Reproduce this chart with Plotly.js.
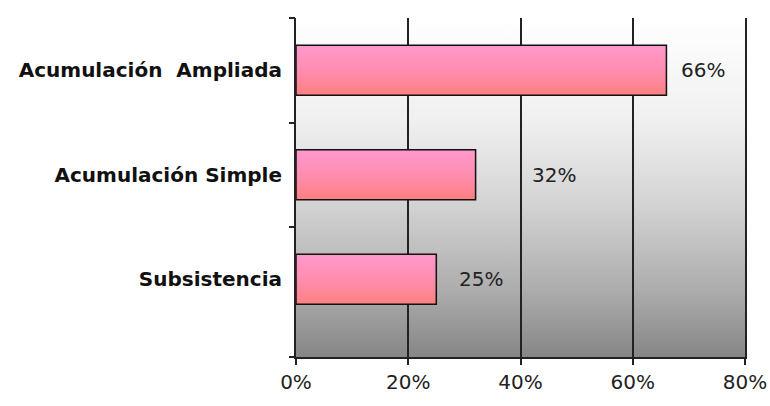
<!DOCTYPE html>
<html>
<head>
<meta charset="utf-8">
<script src="https://cdn.plot.ly/plotly-3.0.1.min.js"></script>
<style>html,body{margin:0;padding:0;background:#fff;}#chart{width:770px;height:406px;}</style>
</head>
<body>
<div id="chart"></div>
<script>
// ---- data ----
const categories = ['Acumulación\u00a0 Ampliada', 'Acumulación Simple', 'Subsistencia'];
const values = [66, 32, 25];
const valueLabels = ['66%', '32%', '25%'];
const xTickVals = [0, 20, 40, 60, 80];
const xTickText = ['0%', '20%', '40%', '60%', '80%'];

// label offsets (style, px)
const labelShift = [13, 54, 21];

const bar = {
  type: 'bar', orientation: 'h',
  x: values, y: categories,
  width: 0.48,
  marker: {color: '#ff8aa6', line: {color: '#111', width: 1.5}},
  hoverinfo: 'none', showlegend: false
};

const yTop = -0.5, yBottom = 2.744;
const boundaryTicks = [-0.5, 0.5, 1.5, yBottom];

const annotations = values.map((v, i) => ({
  x: v, y: categories[i], xref: 'x', yref: 'y',
  text: valueLabels[i], showarrow: false, xanchor: 'left', xshift: labelShift[i],
  font: {family: 'DejaVu Sans', size: 20, color: '#222'}
}));

const layout = {
  width: 770, height: 406,
  margin: {l: 296, r: 25, t: 18, b: 49, pad: 0},
  paper_bgcolor: '#fff', plot_bgcolor: '#ddd',
  xaxis: {
    range: [0, 80], tickvals: xTickVals, ticktext: xTickText,
    showgrid: true, gridcolor: '#222', gridwidth: 2,
    zeroline: false, showline: true, linecolor: '#222', linewidth: 2,
    ticks: 'outside', ticklen: 6, tickcolor: '#222', tickwidth: 2,
    tickfont: {family: 'DejaVu Sans', size: 20, color: '#222'},
    fixedrange: true
  },
  yaxis: {
    type: 'category', categoryorder: 'array', categoryarray: categories,
    range: [yBottom, yTop],
    showline: true, linecolor: '#222', linewidth: 2,
    ticks: '', showgrid: false, zeroline: false,
    ticklabelstandoff: 8,
    tickfont: {family: 'DejaVu Sans', size: 20, color: '#111', weight: 'bold'},
    fixedrange: true
  },
  yaxis2: {
    overlaying: 'y', range: [yBottom, yTop], tickvals: boundaryTicks,
    showticklabels: false, ticks: 'outside', ticklen: 6, tickcolor: '#222', tickwidth: 2,
    showgrid: false, zeroline: false, showline: false, fixedrange: true, side: 'left'
  },
  yaxis3: {
    overlaying: 'y', range: [yBottom, yTop], side: 'right',
    showticklabels: false, ticks: '', showgrid: false, zeroline: false,
    showline: true, linecolor: '#222', linewidth: 2, fixedrange: true
  },
  annotations: annotations,
  showlegend: false
};

const dummy2 = {type: 'scatter', x: [null], y: [null], yaxis: 'y2', hoverinfo: 'none', showlegend: false};
const dummy3 = {type: 'scatter', x: [null], y: [null], yaxis: 'y3', hoverinfo: 'none', showlegend: false};

Plotly.newPlot('chart', [bar, dummy2, dummy3], layout, {staticPlot: true, displayModeBar: false}).then(gd => {
  const svg = gd.querySelector('svg.main-svg');
  const NS = 'http://www.w3.org/2000/svg';
  let defs = svg.querySelector('defs');
  if (!defs) { defs = document.createElementNS(NS, 'defs'); svg.insertBefore(defs, svg.firstChild); }
  function grad(id, stops) {
    const g = document.createElementNS(NS, 'linearGradient');
    g.setAttribute('id', id);
    g.setAttribute('x1', '0'); g.setAttribute('y1', '0'); g.setAttribute('x2', '0'); g.setAttribute('y2', '1');
    stops.forEach(s => {
      const st = document.createElementNS(NS, 'stop');
      st.setAttribute('offset', s[0]); st.setAttribute('stop-color', s[1]);
      g.appendChild(st);
    });
    defs.appendChild(g);
  }
  grad('bgGrad', [['0', '#ffffff'], ['0.3', '#f0f0f0'], ['0.55', '#d3d3d3'], ['0.8', '#adadad'], ['1', '#868686']]);
  grad('barGrad', [['0', '#ff99cc'], ['0.5', '#ff8db0'], ['1', '#ff8080']]);
  svg.querySelectorAll('rect.bg').forEach(r => { r.style.fill = 'url(#bgGrad)'; });
  svg.querySelectorAll('g.trace.bars path').forEach(p => { p.style.fill = 'url(#barGrad)'; });
});
</script>
</body>
</html>
